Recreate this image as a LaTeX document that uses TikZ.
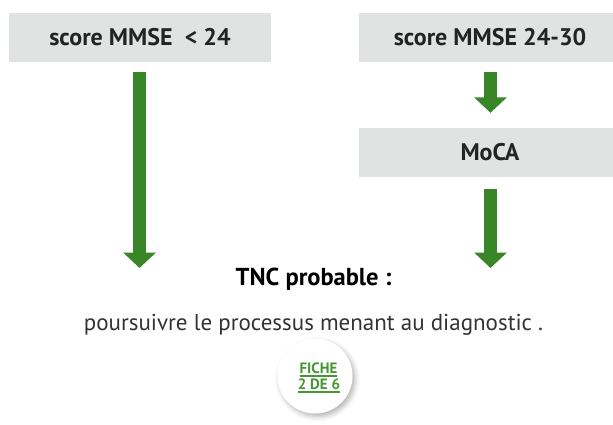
\documentclass[tikz,border=0pt]{standalone}
\usepackage{fontspec}
\setmainfont{PT Sans}
\usetikzlibrary{arrows.meta,shadows.blur}

\definecolor{boxgray}{RGB}{225,226,226}
\definecolor{arrowgreen}{RGB}{56,134,40}
\definecolor{badgegreen}{RGB}{70,150,52}
\definecolor{inkdark}{RGB}{35,35,35}
\definecolor{inkgray}{RGB}{50,50,50}

% thick underline for the badge lines
\newcommand\badgeul[1]{\setbox0\hbox{#1}\rlap{\rule[-3.5pt]{\wd0}{1.6pt}}\box0}

\tikzset{
  scorebox/.style={fill=boxgray, draw=none, minimum width=262pt, minimum height=49pt,
    inner sep=0pt, font=\fontsize{24}{28}\selectfont\bfseries, text=inkdark},
  greenarrow/.style={draw=arrowgreen, line width=13pt,
    -{Triangle[width=32pt,length=15.5pt]}},
  badge/.style={circle, fill=white, minimum size=75pt, inner sep=0pt,
    blur shadow={shadow xshift=2.5pt, shadow yshift=-3pt, shadow blur radius=5pt, shadow opacity=30}},
  badgetext/.style={font=\fontsize{15}{17}\selectfont\bfseries, text=badgegreen, inner sep=0pt}
}

\begin{document}
\begin{tikzpicture}[x=1pt,y=-1pt]
  \useasboundingbox (0,0) rectangle (613,424);

  % the three grey boxes
  \node[scorebox] (mmseLow)  at (140,37.5) {score MMSE \ < 24};
  \node[scorebox] (mmseHigh) at (490,37.5) {score MMSE 24-30};
  \node[scorebox] (moca)     at (490,152.5) {MoCA};

  % conclusion text
  \node[anchor=base, font=\fontsize{24.5}{28}\selectfont\bfseries, text=black, inner sep=0pt]
    (tnc) at (313.5,285) {TNC probable :};
  \node[anchor=base, font=\fontsize{23}{27}\selectfont, text=inkgray, inner sep=0pt]
    (suite) at (313.5,330) {poursuivre le processus menant au diagnostic .};

  % arrow ends above the conclusion
  \coordinate (endL) at (139.5,268);
  \coordinate (endR) at (490.5,268);

  % green arrows
  \draw[greenarrow] ([xshift=-0.5pt,yshift=-10pt]mmseLow.south) -- (endL);
  \draw[greenarrow] ([xshift=0.5pt,yshift=-10pt]mmseHigh.south) -- ([xshift=0.5pt,yshift=15pt]moca.north);
  \draw[greenarrow] ([xshift=0.5pt,yshift=-12pt]moca.south) -- (endR);

  % sheet badge
  \node[badge] (badge) at (315,376) {};
  \node[badgetext, anchor=base] (fiche) at (318.5,373) {\badgeul{FICHE}};
  \node[badgetext, anchor=base] (num)   at (319,389.5) {\badgeul{2 DE 6}};
\end{tikzpicture}
\end{document}
